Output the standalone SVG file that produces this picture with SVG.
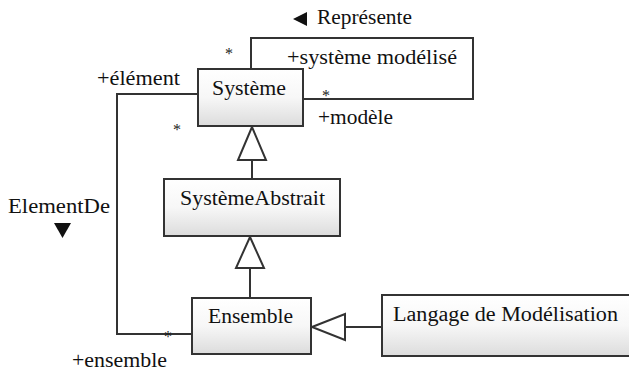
<svg xmlns="http://www.w3.org/2000/svg" width="629" height="372" viewBox="0 0 629 372">
<defs>
<linearGradient id="g" x1="0" y1="0" x2="0" y2="1">
<stop offset="0" stop-color="#ffffff"/>
<stop offset="0.5" stop-color="#f7f7f7"/>
<stop offset="1" stop-color="#dcdcdc"/>
</linearGradient>
</defs>
<style>
.box{fill:url(#g);stroke:#333;stroke-width:2}
.t{font-family:"Liberation Serif","Times New Roman",serif;font-size:20px;fill:#111}
.s{font-family:"Liberation Serif","Times New Roman",serif;font-size:16px;fill:#222;text-anchor:middle}
.ln{fill:none;stroke:#333;stroke-width:2}
.gen{fill:#fff;stroke:#333;stroke-width:2}
</style>
<rect width="629" height="372" fill="#fff"/>
<g id="connectors">
<polyline class="ln" points="251,69 251,38 473,38 473,99 303,99"/>
<polyline class="ln" points="198,94 117,94 117,334 192,334"/>
<line class="ln" x1="252" y1="160" x2="252" y2="179"/>
<polygon class="gen" points="252,127 238,160 266,160"/>
<line class="ln" x1="250" y1="268" x2="250" y2="298"/>
<polygon class="gen" points="250,237 236,268 264,268"/>
<line class="ln" x1="345" y1="327" x2="382" y2="327"/>
<polygon class="gen" points="312,327 345,314 345,340"/>
<polygon points="293,19 307,12 307,26" fill="#111"/>
<text class="t" x="317" y="24" textLength="95" lengthAdjust="spacingAndGlyphs">Représente</text>
<text class="t" x="287" y="64" textLength="170" lengthAdjust="spacingAndGlyphs">+système modélisé</text>
<text class="t" x="318" y="124" textLength="75" lengthAdjust="spacingAndGlyphs">+modèle</text>
<text class="t" x="97" y="85" textLength="83" lengthAdjust="spacingAndGlyphs">+élément</text>
<text class="t" x="72" y="367" textLength="95" lengthAdjust="spacingAndGlyphs">+ensemble</text>
<text class="t" x="8" y="213" textLength="102" lengthAdjust="spacingAndGlyphs">ElementDe</text>
<polygon points="54,223 71,223 62.5,238" fill="#111"/>
<text class="s" x="229" y="59">*</text>
<text class="s" x="326" y="101">*</text>
<text class="s" x="177" y="135">*</text>
<text class="s" x="168" y="342">*</text>
</g>
<g id="systeme">
<rect class="box" x="198" y="69" width="105" height="57"/>
<text class="t" x="212" y="95" textLength="74" lengthAdjust="spacingAndGlyphs">Système</text>
</g>
<g id="systemeAbstrait">
<rect class="box" x="164" y="179" width="176" height="57"/>
<text class="t" x="180" y="205" textLength="145" lengthAdjust="spacingAndGlyphs">SystèmeAbstrait</text>
</g>
<g id="ensemble">
<rect class="box" x="192" y="298" width="119" height="56"/>
<text class="t" x="208" y="323" textLength="85" lengthAdjust="spacingAndGlyphs">Ensemble</text>
</g>
<g id="langage">
<rect class="box" x="382" y="295" width="250" height="61"/>
<text class="t" x="393" y="321" textLength="225" lengthAdjust="spacingAndGlyphs">Langage de Modélisation</text>
</g>
</svg>
